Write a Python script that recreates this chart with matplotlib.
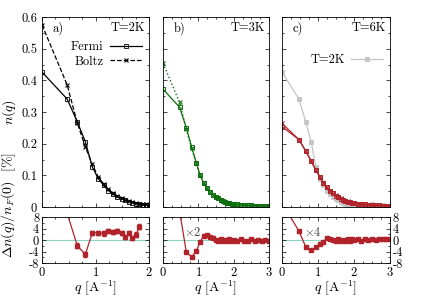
import matplotlib
matplotlib.use("Agg")
import matplotlib.pyplot as plt
from matplotlib.ticker import MultipleLocator
import numpy as np

plt.rcParams['font.family'] = 'serif'
plt.rcParams['font.serif'] = ['cmr10', 'DejaVu Serif']
plt.rcParams['mathtext.fontset'] = 'cm'
plt.rcParams['axes.formatter.use_mathtext'] = True
plt.rcParams['font.size'] = 9

# momentum grid
q = [0, 0.47, 0.66, 0.81, 0.94, 1.05, 1.15, 1.24, 1.33, 1.41, 1.49, 1.56,
     1.63, 1.69, 1.76, 1.82, 1.88, 1.94, 2.0, 2.1, 2.2, 2.3, 2.4, 2.5,
     2.6, 2.7, 2.8, 2.9, 3.0]

# panel a, T=2K
fermi_2k = [0.426, 0.341, 0.269, 0.206, 0.127, 0.09, 0.069, 0.052, 0.04,
            0.032, 0.026, 0.021, 0.017, 0.014, 0.011, 0.009, 0.007, 0.006, 0.005]
boltz_2k = [0.575, 0.386, 0.265, 0.19, 0.135, 0.095, 0.073, 0.056, 0.043,
            0.035, 0.028, 0.023, 0.018, 0.015, 0.013, 0.011, 0.009, 0.008, 0.007]
# full 2K curve shown in grey in panel c
gray_2k = fermi_2k + [0.004, 0.004, 0.003, 0.003, 0.01, 0.003, 0.002, 0.006, 0.002, 0.002]

# panel b, T=3K
fermi_3k = [0.372, 0.315, 0.25, 0.19, 0.14, 0.10, 0.076, 0.06, 0.047, 0.039,
            0.032, 0.027, 0.022, 0.019, 0.016, 0.014, 0.012, 0.010, 0.009,
            0.008, 0.007, 0.006, 0.005, 0.005, 0.004, 0.004, 0.003, 0.003, 0.003]
boltz_3k = [0.454, 0.33, 0.245, 0.185, 0.138, 0.10, 0.076, 0.06, 0.047, 0.039,
            0.032, 0.027, 0.022, 0.019, 0.016, 0.014, 0.012, 0.010, 0.009,
            0.008, 0.007, 0.006, 0.005, 0.005, 0.004, 0.004, 0.003, 0.003, 0.003]

# panel c, T=6K
fermi_6k = [0.254, 0.213, 0.177, 0.145, 0.116, 0.095, 0.076, 0.062, 0.051,
            0.043, 0.036, 0.031, 0.026, 0.023, 0.02, 0.017, 0.015, 0.013, 0.012,
            0.010, 0.009, 0.008, 0.007, 0.006, 0.005, 0.005, 0.004, 0.004, 0.003]
boltz_6k = [0.264, 0.213, 0.176, 0.146, 0.117, 0.096, 0.077, 0.063, 0.052,
            0.044, 0.037, 0.031, 0.027, 0.023, 0.02, 0.018, 0.015, 0.014, 0.012,
            0.011, 0.009, 0.008, 0.007, 0.006, 0.006, 0.005, 0.004, 0.004, 0.004]

# relative differences [%] for lower panels (b scaled x2, c scaled x4)
diff_2k = [34, 9.3, -2.0, -5.0, 2.5, 2.5, 2.3, 3.1, 2.8, 3.1, 2.4, 1.0,
           2.4, 0.7, 1.9, 4.6]
err_2k = [1.0, 1.0, 0.9, 1.0, 0.8, 0.8, 0.8, 0.8, 0.8, 0.8, 0.8, 0.8,
          0.8, 0.8, 0.8, 0.8]
diff_3k = [20, 10, -4.2, -5.9, -3.9, -0.6, 1.3, 1.6, 1.2, 0.6, 0.1, -0.2,
           0.3, -0.3, 0.1, -0.4, 0.2, -0.3, 0.0, -0.4, 0.3, -0.2, -0.3, 0.2,
           -0.4, 0.1, -0.3, 0.0, -0.2]
diff_6k = [13, 3.1, -2.4, -3.5, -2.6, -1.4, -0.6, 0.6, 0.4, 0.0, -0.4, 0.2,
           -0.3, 0.1, -0.2, 0.4, -0.3, 0.2, 0.0, 0.3, -0.2, 0.4, 0.1, 0.3,
           0.0, 0.4, 0.2, 0.5, 0.4]

green = '#0d6e0d'
red = '#b0232a'
gray = '#c4c4c4'
teal = '#8ad3c2'

fig = plt.figure(figsize=(4.24, 2.97), dpi=100)

lefts = [42/424, 163/424, 282/424]
widths = [107/424, 106/424, 108/424]
top_b, top_h = 1 - 207/297, 190/297
low_b, low_h = 1 - 263/297, 46/297

ax_top = [fig.add_axes([l, top_b, w, top_h]) for l, w in zip(lefts, widths)]
ax_low = [fig.add_axes([l, low_b, w, low_h]) for l, w in zip(lefts, widths)]

n2 = len(fermi_2k)
ms = 3

# panel a
a = ax_top[0]
a.plot(q[:n2], fermi_2k, '-', color='k', marker='s', ms=ms, mfc='none', mew=0.6, lw=0.9, label='Fermi')
a.plot(q[:n2], boltz_2k, '--', color='k', marker='x', ms=ms, mew=0.8, lw=0.9, label='Boltz')
a.legend(loc='upper right', bbox_to_anchor=(1.02, 0.92), frameon=False, markerfirst=False,
         handlelength=2.6, borderpad=0.2, labelspacing=0.2, handletextpad=0.5, fontsize=9)

# panel b
b = ax_top[1]
b.plot(q, fermi_3k, '-', color=green, marker='s', ms=ms, mfc='none', mew=0.7, lw=0.9)
b.plot(q, boltz_3k, ':', color=green, marker='x', ms=ms, mew=0.8, lw=1.0)

# panel c
c = ax_top[2]
c.plot(q, gray_2k, '-', color=gray, marker='s', ms=ms, mfc=gray, mew=0.6, lw=0.9, label='T=2K')
c.plot(q, fermi_6k, '-', color=red, marker='s', ms=ms, mfc='none', mew=0.7, lw=0.9)
c.plot(q, boltz_6k, '-', color=red, marker='x', ms=ms, mew=0.8, lw=0.9)
c.legend(loc='upper right', bbox_to_anchor=(1.02, 0.85), frameon=False, markerfirst=False,
         handlelength=2.6, borderpad=0.2, handletextpad=0.5, fontsize=9)

labels = ['a)', 'b)', 'c)']
temps = ['T=2K', 'T=3K', 'T=6K']
for i, ax in enumerate(ax_top):
    ax.set_ylim(0, 0.6)
    ax.set_xlim(0, 2 if i == 0 else 3)
    ax.xaxis.set_major_locator(MultipleLocator(1))
    ax.xaxis.set_minor_locator(MultipleLocator(0.25))
    ax.yaxis.set_major_locator(MultipleLocator(0.1))
    ax.yaxis.set_minor_locator(MultipleLocator(0.05))
    ax.tick_params(which='both', direction='in', top=True, right=True, labelbottom=False)
    ax.tick_params(which='major', length=3, width=0.5)
    ax.tick_params(which='minor', length=1.5, width=0.5)
    if i > 0:
        ax.tick_params(labelleft=False)
    ax.text(0.1, 0.975, labels[i], transform=ax.transAxes, ha='left', va='top', fontsize=9)
    ax.text(0.96, 0.975, temps[i], transform=ax.transAxes, ha='right', va='top', fontsize=9)
    for s in ax.spines.values():
        s.set_linewidth(0.6)
ax_top[0].set_yticks([0, 0.1, 0.2, 0.3, 0.4, 0.5, 0.6])
ax_top[0].set_yticklabels(['0', '0.1', '0.2', '0.3', '0.4', '0.5', '0.6'])
ax_top[0].set_ylabel(r'$n(q)$', fontsize=10, labelpad=2)

# lower panels
ax_low[0].errorbar(q[:len(diff_2k)], diff_2k, yerr=err_2k, color=red, marker='s', ms=2.5,
                   lw=0.9, elinewidth=0.7, capsize=1.5)
ax_low[1].errorbar(q, diff_3k, yerr=0.3, color=red, marker='s', ms=2.5,
                   lw=0.9, elinewidth=0.7, capsize=1)
ax_low[2].errorbar(q, diff_6k, yerr=0.3, color=red, marker='s', ms=2.5,
                   lw=0.9, elinewidth=0.7, capsize=1)
ax_low[1].text(0.2, 0.8, r'$\times2$', transform=ax_low[1].transAxes, ha='left', va='top',
               fontsize=9, color='#444444')
ax_low[2].text(0.2, 0.8, r'$\times4$', transform=ax_low[2].transAxes, ha='left', va='top',
               fontsize=9, color='#444444')

for i, ax in enumerate(ax_low):
    ax.axhline(0, color=teal, lw=0.8, zorder=0)
    ax.set_ylim(-8, 8)
    ax.set_xlim(0, 2 if i == 0 else 3)
    ax.xaxis.set_major_locator(MultipleLocator(1))
    ax.xaxis.set_minor_locator(MultipleLocator(0.25))
    ax.set_yticks([-8, -4, 0, 4, 8])
    ax.yaxis.set_minor_locator(MultipleLocator(2))
    ax.tick_params(which='both', direction='in', top=True, right=True, labelsize=9, pad=2)
    ax.tick_params(which='major', length=3, width=0.5)
    ax.tick_params(which='minor', length=1.5, width=0.5)
    ax.set_yticklabels(['-8', '-4', '0', '4', '8'])
    if i > 0:
        ax.tick_params(labelleft=False)
    ax.set_xlabel(r'$q$ [A$^{-1}$]', fontsize=10, labelpad=0)
    for s in ax.spines.values():
        s.set_linewidth(0.6)
ax_low[2].tick_params(labelright=True)
ax_low[0].set_ylabel(r'$\Delta n(q)/n_F(0)$  [%]', fontsize=10, labelpad=1)
ax_low[0].yaxis.set_label_coords(-0.22, 1.25)

fig.savefig('out.png', dpi=100)
